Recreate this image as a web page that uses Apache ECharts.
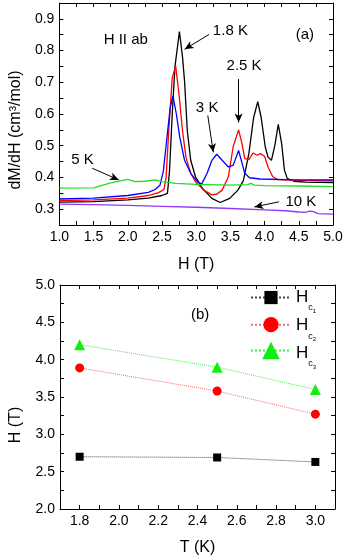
<!DOCTYPE html>
<html><head><meta charset="utf-8">
<script src="https://cdn.jsdelivr.net/npm/echarts@6/dist/echarts.min.js"></script>
<style>html,body{margin:0;padding:0;background:#fff}#c{width:346px;height:558px}</style>
</head><body><div id="c"></div>
<script>
// ---------- panel (a) data: dM/dH vs H ----------
const H_18 = [1.0,1.5,2.0,2.3,2.5,2.58,2.61,2.65,2.69,2.72,2.755,2.80,2.83,2.87,2.92,2.99,3.09,3.23,3.35,3.49,3.61,3.69,3.77,3.84,3.90,3.95,4.01,4.05,4.10,4.15,4.20,4.25,4.29,4.33,4.43,4.6,5.0];
const M_18 = [0.322,0.324,0.329,0.335,0.343,0.350,0.42,0.60,0.75,0.80,0.86,0.78,0.704,0.548,0.454,0.402,0.366,0.334,0.321,0.334,0.36,0.39,0.475,0.589,0.639,0.589,0.496,0.464,0.454,0.501,0.567,0.506,0.423,0.397,0.388,0.385,0.384];
const H_25 = [1.0,1.5,2.0,2.3,2.45,2.53,2.56,2.6,2.65,2.70,2.75,2.80,2.85,2.92,2.99,3.11,3.23,3.30,3.38,3.47,3.54,3.62,3.67,3.71,3.77,3.83,3.89,3.94,4.00,4.05,4.12,4.19,4.5,5.0];
const M_25 = [0.327,0.329,0.335,0.343,0.352,0.362,0.40,0.55,0.714,0.751,0.66,0.548,0.464,0.413,0.386,0.36,0.345,0.347,0.36,0.402,0.496,0.55,0.506,0.459,0.456,0.477,0.47,0.475,0.467,0.433,0.402,0.393,0.391,0.389];
const H_3 = [1.0,1.5,2.0,2.3,2.4,2.47,2.52,2.57,2.62,2.66,2.71,2.76,2.83,2.92,3.02,3.08,3.16,3.23,3.30,3.38,3.47,3.54,3.62,3.66,3.71,3.78,3.93,4.3,5.0];
const M_3 = [0.332,0.335,0.343,0.353,0.362,0.375,0.42,0.52,0.62,0.657,0.60,0.527,0.454,0.413,0.386,0.379,0.413,0.454,0.473,0.454,0.433,0.438,0.485,0.454,0.413,0.399,0.395,0.393,0.392];
const H_5 = [1.0,1.5,1.75,2.0,2.1,2.25,2.4,2.5,2.7,3.0,3.5,3.75,3.8,3.85,4.0,4.5,5.0];
const M_5 = [0.366,0.367,0.383,0.394,0.387,0.388,0.392,0.387,0.381,0.378,0.376,0.377,0.381,0.376,0.374,0.373,0.371];
const H_10 = [1.0,1.5,2.0,2.5,3.0,3.5,4.0,4.3,4.5,4.6,4.66,4.7,4.78,5.0];
const M_10 = [0.316,0.314,0.312,0.309,0.306,0.302,0.298,0.295,0.291,0.290,0.294,0.293,0.286,0.284];

// ---------- panel (b) data: critical fields vs T ----------
const T_K = [1.8, 2.5, 3.0];
const Hc1 = [2.70, 2.69, 2.63];
const Hc2 = [3.89, 3.58, 3.27];
const Hc3 = [4.20, 3.90, 3.60];

// annotation texts / arrows (data coordinates)
const labelsA = ['1.8 K','2.5 K','3 K','5 K','10 K','H II ab','(a)'];
const labelPosA = [[3.50,0.863],[3.70,0.751],[3.16,0.62],[1.34,0.454],[4.53,0.324],[1.97,0.834],[4.59,0.85]];
const arrowsA = [[[3.19,0.851],[2.83,0.804]],[[3.62,0.71],[3.62,0.573]],[[3.17,0.595],[3.25,0.479]],[[1.48,0.429],[1.87,0.392]],[[4.21,0.323],[3.85,0.307]]];
const labelsB = ['(b)'];
const labelPosB = [[2.413,4.60]];

const zip = (a,b) => a.map((v,i)=>[v,b[i]]);
const FONT = 'Liberation Sans, Arial, sans-serif';

function mkAxis(o, labelFmt, showLabel){
  return Object.assign({
    type:'value', splitLine:{show:false},
    axisLine:{show:true, onZero:false, lineStyle:{color:'#000', width:1}},
    axisTick:{show:true, inside:true, length:4, lineStyle:{color:'#000'}},
    axisLabel:{show:showLabel, interval:0, color:'#000', fontSize:14, fontFamily:FONT, margin:5,
      showMinLabel:true, showMaxLabel:true, formatter:labelFmt}
  }, o);
}
const fmtHalf = v => { const r = Math.round(v*100); return r % 50 === 0 ? (r/100).toFixed(1) : ''; };
const fmtTenth = v => { const r = Math.round(v*100); return r % 10 === 0 ? (r/100).toFixed(1) : ''; };
const fmtEven = v => { const r = Math.round(v*10); return r % 2 === 0 ? (r/10).toFixed(1) : ''; };

const nameStyle = {fontSize:16, fontFamily:FONT, color:'#000'};

const chart = echarts.init(document.getElementById('c'));
const lineA = (name, H, M, color) => ({
  name, type:'line', xAxisIndex:0, yAxisIndex:0, data: zip(H,M), symbol:'none',
  lineStyle:{color, width:1.3}, itemStyle:{color}, animation:false
});
const lineB = (name, Y, sym, size, color, lcolor) => ({
  name, type:'line', xAxisIndex:2, yAxisIndex:2, data: zip(T_K,Y), symbol:sym, symbolSize:size,
  itemStyle:{color}, lineStyle:{color:lcolor, width:1, type:'dotted'}, animation:false
});

const seriesA = [
  lineA('1.8 K', H_18, M_18, '#000000'),
  lineA('2.5 K', H_25, M_25, '#ff0000'),
  lineA('3 K', H_3, M_3, '#0000ff'),
  lineA('5 K', H_5, M_5, '#22dd22'),
  lineA('10 K', H_10, M_10, '#8f3bf5')
];
seriesA[0].markLine = {
  silent:true, animation:false, symbol:['none','arrow'], symbolSize:[6,9],
  label:{show:false}, lineStyle:{color:'#000', width:1, type:'solid'},
  data: arrowsA.map(a => [{coord:a[0]},{coord:a[1]}])
};

function richFor(ih){
  const m = ih/2;
  return {
    h:{fontSize:17, lineHeight:17, fontFamily:FONT, color:'#000', verticalAlign:'top', padding:[Math.max(0,m-8.5),0,0,0]},
    c:{fontSize:9, lineHeight:10, fontFamily:FONT, color:'#000', verticalAlign:'top', padding:[m+11-5,0,0,0]},
    n:{fontSize:6, lineHeight:7, fontFamily:FONT, color:'#000', verticalAlign:'top', padding:[m+14.5-3.5,0,0,0]}
  };
}
const legendFor = (name, centerY, ih) => ({
  data:[name], left:245, top:centerY - ih/2 - 5, orient:'vertical', itemWidth:40, itemHeight:ih, selectedMode:false,
  formatter: n => '{h|H}{c|c}{n|' + n.slice(-1) + '}',
  textStyle:{rich:richFor(ih)}
});

chart.setOption({
  animation:false,
  backgroundColor:'#fff',
  grid:[
    {left:54, top:3, width:279, height:222},
    {left:56, top:285, width:279, height:224}
  ],
  xAxis:[
    mkAxis({gridIndex:0, min:1, max:5, interval:0.25, position:'bottom', name:'H (T)', nameLocation:'middle', nameGap:32, nameTextStyle:nameStyle}, fmtHalf, true),
    mkAxis({gridIndex:0, min:1, max:5, interval:0.25, position:'top'}, fmtHalf, false),
    mkAxis({gridIndex:1, min:1.7, max:3.1, interval:0.1, position:'bottom', name:'T (K)', nameLocation:'middle', nameGap:31, nameTextStyle:nameStyle}, fmtEven, true),
    mkAxis({gridIndex:1, min:1.7, max:3.1, interval:0.1, position:'top'}, fmtEven, false)
  ],
  yAxis:[
    mkAxis({gridIndex:0, min:0.25, max:0.95, interval:0.05, position:'left', name:'dM/dH (cm³/mol)', nameLocation:'middle', nameGap:33, nameTextStyle:Object.assign({padding:[0,32,0,0]}, nameStyle)}, fmtTenth, true),
    mkAxis({gridIndex:0, min:0.25, max:0.95, interval:0.05, position:'right'}, fmtTenth, false),
    mkAxis({gridIndex:1, min:2, max:5, interval:0.25, position:'left', name:'H (T)', nameLocation:'middle', nameGap:36, nameTextStyle:Object.assign({padding:[0,56,0,0]}, nameStyle)}, fmtHalf, true),
    mkAxis({gridIndex:1, min:2, max:5, interval:0.25, position:'right'}, fmtHalf, false)
  ],
  legend:[
    legendFor('Hc1', 297.3, 16.5),
    legendFor('Hc2', 325.7, 19),
    legendFor('Hc3', 352.7, 22)
  ],
  series: seriesA.concat([
    lineB('Hc1', Hc1, 'rect', 8, '#000000', '#444444'),
    lineB('Hc2', Hc2, 'circle', 9, '#ff0000', '#ff6666'),
    lineB('Hc3', Hc3, 'triangle', 11, '#11ee11', '#44ee44')
  ])
});

const txt = (s, p) => ({type:'text', x:p[0], y:p[1], silent:true,
  style:{text:s, fill:'#000', font:'15px ' + FONT, textAlign:'center', textVerticalAlign:'middle'}});
const g = [];
labelsA.forEach((s,i)=> g.push(txt(s, chart.convertToPixel({gridIndex:0}, labelPosA[i]))));
labelsB.forEach((s,i)=> g.push(txt(s, chart.convertToPixel({gridIndex:1}, labelPosB[i]))));
chart.setOption({graphic:g});
</script></body></html>
